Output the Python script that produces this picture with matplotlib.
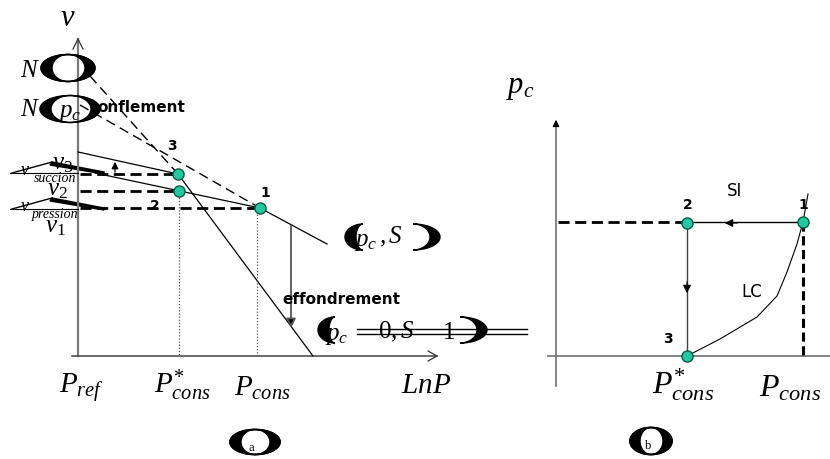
import matplotlib
matplotlib.use("Agg")
import matplotlib.pyplot as plt
from matplotlib.patches import Arc, Polygon
import numpy as np

plt.rcParams['mathtext.fontset'] = 'custom'
plt.rcParams['mathtext.it'] = 'Liberation Serif:italic'
plt.rcParams['mathtext.rm'] = 'Liberation Serif'
plt.rcParams['mathtext.bf'] = 'Liberation Serif:bold'

# --- schema (a): v - LnP, coordinates in figure pixels ---
origin_a = (78, 357)
pts_a_x = [260, 179, 178]          # points 1, 2, 3
pts_a_y = [209, 192, 175]
pts_a_lab = ['1', '2', '3']
pts_a_labpos = [(265, 193), (155, 206), (172, 146)]
drop_x = [179, 257]                # dotted verticals
drop_y = [192, 209]

ncl0_x = [90, 178]                 # N(0) dashed
ncl0_y = [77, 175]
steep_x = [178, 313]               # saturated NCL continued
steep_y = [175, 357]
nclpc_x = [80, 260]                # N(pc) dashed
nclpc_y = [106, 209]
nclpc_cont_x = [260, 327]
nclpc_cont_y = [209, 245]
kappa_up_x = [78, 178]
kappa_up_y = [153, 175]
kappa_lo_x = [95, 260]
kappa_lo_y = [174, 209]

# --- schema (b): pc - P ---
pts_b_x = [803, 687, 687]
pts_b_y = [223, 224, 357]
pts_b_lab = ['1', '2', '3']
pts_b_labpos = [(803, 205), (688, 205), (668, 339)]
lc_x = [687, 720, 757, 777, 787, 797, 803, 808]
lc_y = [357, 340, 318, 297, 273, 245, 223, 195]

fig = plt.figure(figsize=(8.3, 4.6), dpi=100)
ax = fig.add_axes([0, 0, 1, 1])
ax.set_xlim(0, 830)
ax.set_ylim(460, 0)
ax.axis('off')

grey = '#7a7a7a'
dot_fc = '#22c9a0'
dot_ec = '#0a5a48'
serif = 'Liberation Serif'


def crescent(cx, cy, a, h, t, side):
    # filled crescent: outer half ellipse minus inner half ellipse
    if side == 'left':
        th = np.linspace(np.pi / 2, 3 * np.pi / 2, 40)
    else:
        th = np.linspace(-np.pi / 2, np.pi / 2, 40)
    outer = np.column_stack([cx + a * np.cos(th), cy + h / 2 * np.sin(th)])
    inner = np.column_stack([cx + (a - t) * np.cos(th), cy + h / 2 * np.sin(th)])[::-1]
    ax.add_patch(Polygon(np.vstack([outer, inner]), closed=True, color='black', zorder=4))


def lens(x, y, w, h, tl, tr, thin=1.2):
    ax.add_patch(Arc((x, y), w, h, theta1=0, theta2=360, lw=thin, color='black', zorder=4))
    crescent(x, y, w / 2, h, tl, 'left')
    crescent(x, y, w / 2, h, tr, 'right')


# axes of (a)
ax.plot([origin_a[0], origin_a[0]], [40, origin_a[1]], color=grey, lw=1.6)
ax.plot([73, 78, 83], [50, 40, 50], color='#333333', lw=0.9)
ax.plot([72, 437], [origin_a[1]] * 2, color='#444444', lw=1.1)
ax.plot([428, 437, 428], [352, 357, 362], color='#333333', lw=0.9)

# lines of (a)
ax.plot(ncl0_x, ncl0_y, color='black', lw=1.0, ls=(0, (7, 4)))
ax.plot(nclpc_x, nclpc_y, color='black', lw=1.0, ls=(0, (7, 4)))
ax.plot(steep_x, steep_y, color='black', lw=0.9)
ax.plot(nclpc_cont_x, nclpc_cont_y, color='black', lw=0.9)
ax.plot(kappa_up_x, kappa_up_y, color='black', lw=0.9)
ax.plot(kappa_lo_x, kappa_lo_y, color='black', lw=0.9)

for px, py in zip(pts_a_x, pts_a_y):
    ax.plot([80, px], [py, py], color='black', lw=2.0, ls=(0, (4, 2)))
for dx, dy in zip(drop_x, drop_y):
    ax.plot([dx, dx], [dy, origin_a[1]], color='#555555', lw=0.9, ls=(0, (1, 1.5)))

ax.annotate('', xy=(115, 160), xytext=(115, 176),
            arrowprops=dict(arrowstyle='-|>', color='black', lw=0.9, mutation_scale=10))
ax.annotate('', xy=(291, 332), xytext=(291, 224),
            arrowprops=dict(arrowstyle='-|>', color='#555555', lw=1.3, mutation_scale=14,
                            fc='black'))

ax.plot(pts_a_x, pts_a_y, ls='none', marker='o', ms=8, mfc=dot_fc, mec=dot_ec, mew=1.0,
        zorder=5)
for lab, (lx, ly) in zip(pts_a_lab, pts_a_labpos):
    ax.text(lx, ly, lab, fontsize=10, fontweight='bold', ha='center', va='center')

# labels of (a)
ax.text(68, 17, '$v$', fontsize=22, ha='center', va='center')
ax.text(30, 70, '$N$', fontsize=18, ha='center', va='center')
lens(68, 69, 54, 27, 11, 10, thin=1.0)
ax.text(30, 109, '$N$', fontsize=18, ha='center', va='center')
ax.text(70, 112, '$p_c$', fontsize=18, ha='center', va='center')
lens(70, 110, 60, 27, 11, 9, thin=0.6)
ax.text(97, 107, 'onflement', fontsize=11, fontweight='bold', ha='left', va='center')

ax.text(63, 163, '$v_3$', fontsize=18, ha='center', va='center')
ax.text(57, 189, '$v_2$', fontsize=18, ha='center', va='center')
ax.text(55, 226, '$v_1$', fontsize=18, ha='center', va='center')
for yb, sub in [(174, 'succion'), (210, 'pression')]:
    ax.plot([10, 78], [yb, yb], color='black', lw=0.8)
    ax.plot([12, 52], [yb, yb - 11], color='black', lw=1.0)
    ax.add_patch(Polygon([[52, yb - 11], [104, yb - 1], [104, yb + 1], [50, yb - 8]],
                         closed=True, color='black'))
    ax.text(25, yb - 4, '$v$', fontsize=13, ha='center', va='center')
    ax.text(55, yb + 5, sub, fontsize=10, family=serif, style='italic',
            ha='center', va='center')

ax.text(282, 300, 'effondrement', fontsize=11, fontweight='bold', ha='left', va='center')

# (pc, S)
ax.text(366, 241, '$p_c$', fontsize=18, ha='center', va='center')
ax.text(391, 237, '$,S$', fontsize=18, ha='center', va='center')
crescent(363, 238, 18, 26, 11, 'left')
crescent(413, 238, 27, 26, 10, 'right')

# (pc = 0, S = 1)
ax.text(337, 335, '$p_c$', fontsize=18, ha='center', va='center')
for yl in [330, 335]:
    ax.plot([357, 527], [yl, yl], color='black', lw=1.0)
ax.text(396, 332, '$0,S$', fontsize=18, ha='center', va='center')
ax.text(448, 332, '$1$', fontsize=18, ha='center', va='center')
crescent(335, 331, 17, 26, 11, 'left')
crescent(460, 331, 27, 26, 10, 'right')

ax.text(81, 388, '$P_{ref}$', fontsize=21, ha='center', va='center')
ax.text(182, 385, '$P^{*}_{cons}$', fontsize=21, ha='center', va='center')
ax.text(262, 388, '$P_{cons}$', fontsize=21, ha='center', va='center')
ax.text(426, 385, '$LnP$', fontsize=21, ha='center', va='center')
ax.text(251, 448, 'a', fontsize=9, family=serif, ha='center', va='center')
lens(255, 443, 50, 25, 11, 10, thin=1.3)

# axes of (b)
ax.plot([556, 556], [128, 387], color=grey, lw=1.3)
ax.annotate('', xy=(556, 118), xytext=(556, 130),
            arrowprops=dict(arrowstyle='-|>', color='black', lw=0.8, mutation_scale=10))
ax.plot([548, 830], [357, 357], color=grey, lw=1.3)
ax.text(520, 88, '$p_c$', fontsize=22, ha='center', va='center')

ax.plot([558, 687], [223, 223], color='black', lw=2.0, ls=(0, (4, 2)))
ax.plot([687, 803], [223, 223], color='black', lw=1.0)
ax.annotate('', xy=(722, 224), xytext=(740, 224),
            arrowprops=dict(arrowstyle='-|>', color='black', lw=0.8, mutation_scale=12))
ax.plot([803, 803], [223, 357], color='black', lw=2.2, ls=(0, (3, 1.5)))
ax.plot([687, 687], [224, 357], color='#444444', lw=1.0)
ax.annotate('', xy=(687, 297), xytext=(687, 280),
            arrowprops=dict(arrowstyle='-|>', color='black', lw=0.8, mutation_scale=12))
ax.plot(lc_x, lc_y, color='black', lw=0.8)

ax.plot(pts_b_x, pts_b_y, ls='none', marker='o', ms=8, mfc=dot_fc, mec=dot_ec, mew=1.0,
        zorder=5)
for lab, (lx, ly) in zip(pts_b_lab, pts_b_labpos):
    ax.text(lx, ly, lab, fontsize=10, fontweight='bold', ha='center', va='center')
ax.text(735, 191, 'SI', fontsize=12, ha='center', va='center')
ax.text(752, 292, 'LC', fontsize=12, ha='center', va='center')

ax.text(683, 385, '$P^{*}_{cons}$', fontsize=23, ha='center', va='center')
ax.text(790, 388, '$P_{cons}$', fontsize=23, ha='center', va='center')
ax.text(648, 446, 'b', fontsize=9, family=serif, ha='center', va='center')
lens(651, 442, 42, 27, 10, 9, thin=1.3)

fig.savefig('out.png', dpi=100)
